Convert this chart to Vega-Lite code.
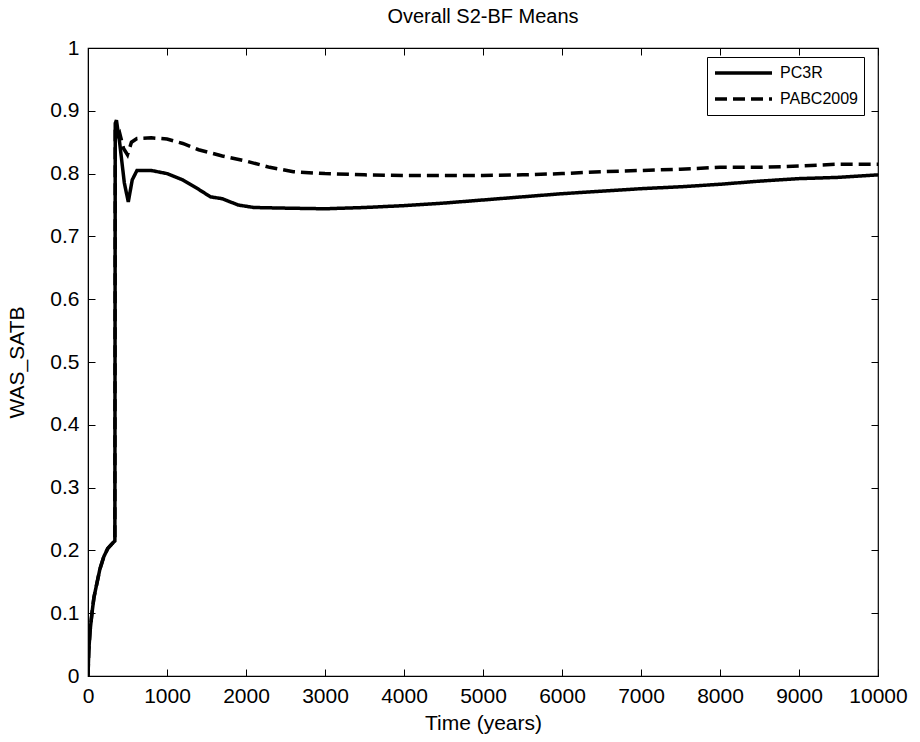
{
  "$schema": "https://vega.github.io/schema/vega-lite/v6.json",
  "width": 790,
  "height": 628,
  "autosize": "none",
  "padding": {"left": 88, "top": 48, "right": 42, "bottom": 66},
  "background": "white",
  "title": {
    "text": "Overall S2-BF Means",
    "font": "Liberation Sans",
    "fontSize": 20,
    "fontWeight": "normal",
    "color": "black",
    "anchor": "middle",
    "offset": 10
  },
  "config": {
    "view": {"stroke": "black", "strokeWidth": 1.2},
    "font": "Liberation Sans",
    "axis": {
      "grid": false,
      "domainColor": "black",
      "tickColor": "black",
      "labelColor": "black",
      "titleColor": "black",
      "labelFont": "Liberation Sans",
      "titleFont": "Liberation Sans",
      "labelFontSize": 21,
      "titleFontSize": 21,
      "titleFontWeight": "normal",
      "tickSize": -7,
      "labelPadding": 16,
      "labelOverlap": false,
      "labelFlush": false
    },
    "legend": {
      "orient": "none",
      "legendX": 619,
      "legendY": 9,
      "strokeColor": "black",
      "fillColor": "white",
      "padding": 6,
      "symbolType": "stroke",
      "symbolSize": 3249,
      "symbolStrokeWidth": 3.5,
      "symbolStrokeColor": "black",
      "labelFont": "Liberation Sans",
      "labelFontSize": 16,
      "labelColor": "black",
      "clipHeight": 20,
      "rowPadding": 6,
      "labelOffset": 6
    }
  },
  "data": {
    "values": [
      {"t": 0, "v": 0.0, "series": "PC3R"},
      {"t": 10, "v": 0.04, "series": "PC3R"},
      {"t": 25, "v": 0.07, "series": "PC3R"},
      {"t": 50, "v": 0.1, "series": "PC3R"},
      {"t": 75, "v": 0.125, "series": "PC3R"},
      {"t": 100, "v": 0.14, "series": "PC3R"},
      {"t": 150, "v": 0.17, "series": "PC3R"},
      {"t": 200, "v": 0.19, "series": "PC3R"},
      {"t": 250, "v": 0.203, "series": "PC3R"},
      {"t": 300, "v": 0.21, "series": "PC3R"},
      {"t": 340, "v": 0.215, "series": "PC3R"},
      {"t": 345, "v": 0.88, "series": "PC3R"},
      {"t": 360, "v": 0.885, "series": "PC3R"},
      {"t": 400, "v": 0.85, "series": "PC3R"},
      {"t": 460, "v": 0.785, "series": "PC3R"},
      {"t": 510, "v": 0.755, "series": "PC3R"},
      {"t": 560, "v": 0.79, "series": "PC3R"},
      {"t": 620, "v": 0.805, "series": "PC3R"},
      {"t": 800, "v": 0.805, "series": "PC3R"},
      {"t": 1000, "v": 0.8, "series": "PC3R"},
      {"t": 1200, "v": 0.79, "series": "PC3R"},
      {"t": 1400, "v": 0.775, "series": "PC3R"},
      {"t": 1550, "v": 0.763, "series": "PC3R"},
      {"t": 1700, "v": 0.76, "series": "PC3R"},
      {"t": 1900, "v": 0.75, "series": "PC3R"},
      {"t": 2100, "v": 0.746, "series": "PC3R"},
      {"t": 2500, "v": 0.745, "series": "PC3R"},
      {"t": 3000, "v": 0.744, "series": "PC3R"},
      {"t": 3500, "v": 0.746, "series": "PC3R"},
      {"t": 4000, "v": 0.749, "series": "PC3R"},
      {"t": 4500, "v": 0.753, "series": "PC3R"},
      {"t": 5000, "v": 0.758, "series": "PC3R"},
      {"t": 5500, "v": 0.763, "series": "PC3R"},
      {"t": 6000, "v": 0.768, "series": "PC3R"},
      {"t": 6500, "v": 0.772, "series": "PC3R"},
      {"t": 7000, "v": 0.776, "series": "PC3R"},
      {"t": 7500, "v": 0.779, "series": "PC3R"},
      {"t": 8000, "v": 0.783, "series": "PC3R"},
      {"t": 8500, "v": 0.788, "series": "PC3R"},
      {"t": 9000, "v": 0.792, "series": "PC3R"},
      {"t": 9500, "v": 0.794, "series": "PC3R"},
      {"t": 10000, "v": 0.798, "series": "PC3R"},
      {"t": 0, "v": 0.0, "series": "PABC2009"},
      {"t": 10, "v": 0.04, "series": "PABC2009"},
      {"t": 25, "v": 0.07, "series": "PABC2009"},
      {"t": 50, "v": 0.1, "series": "PABC2009"},
      {"t": 75, "v": 0.125, "series": "PABC2009"},
      {"t": 100, "v": 0.14, "series": "PABC2009"},
      {"t": 150, "v": 0.17, "series": "PABC2009"},
      {"t": 200, "v": 0.19, "series": "PABC2009"},
      {"t": 250, "v": 0.203, "series": "PABC2009"},
      {"t": 300, "v": 0.21, "series": "PABC2009"},
      {"t": 340, "v": 0.215, "series": "PABC2009"},
      {"t": 345, "v": 0.87, "series": "PABC2009"},
      {"t": 370, "v": 0.86, "series": "PABC2009"},
      {"t": 400, "v": 0.865, "series": "PABC2009"},
      {"t": 450, "v": 0.84, "series": "PABC2009"},
      {"t": 500, "v": 0.83, "series": "PABC2009"},
      {"t": 550, "v": 0.85, "series": "PABC2009"},
      {"t": 620, "v": 0.856, "series": "PABC2009"},
      {"t": 800, "v": 0.857, "series": "PABC2009"},
      {"t": 1000, "v": 0.855, "series": "PABC2009"},
      {"t": 1200, "v": 0.848, "series": "PABC2009"},
      {"t": 1400, "v": 0.838, "series": "PABC2009"},
      {"t": 1700, "v": 0.828, "series": "PABC2009"},
      {"t": 2000, "v": 0.82, "series": "PABC2009"},
      {"t": 2300, "v": 0.81, "series": "PABC2009"},
      {"t": 2600, "v": 0.803, "series": "PABC2009"},
      {"t": 3000, "v": 0.8, "series": "PABC2009"},
      {"t": 3500, "v": 0.798, "series": "PABC2009"},
      {"t": 4000, "v": 0.797, "series": "PABC2009"},
      {"t": 5000, "v": 0.797, "series": "PABC2009"},
      {"t": 5500, "v": 0.798, "series": "PABC2009"},
      {"t": 6000, "v": 0.8, "series": "PABC2009"},
      {"t": 6500, "v": 0.803, "series": "PABC2009"},
      {"t": 7000, "v": 0.805, "series": "PABC2009"},
      {"t": 7500, "v": 0.807, "series": "PABC2009"},
      {"t": 8000, "v": 0.81, "series": "PABC2009"},
      {"t": 8500, "v": 0.81, "series": "PABC2009"},
      {"t": 9000, "v": 0.812, "series": "PABC2009"},
      {"t": 9500, "v": 0.815, "series": "PABC2009"},
      {"t": 10000, "v": 0.815, "series": "PABC2009"}
    ]
  },
  "layer": [
    {
      "mark": {"type": "line", "color": "black", "strokeWidth": 3.5, "clip": true},
      "encoding": {
        "x": {
          "field": "t",
          "type": "quantitative",
          "scale": {"domain": [0, 10000], "nice": false, "zero": false},
          "axis": {"title": "Time (years)", "values": [0,1000,2000,3000,4000,5000,6000,7000,8000,9000,10000], "format": "d", "titlePadding": 6}
        },
        "y": {
          "field": "v",
          "type": "quantitative",
          "scale": {"domain": [0, 1], "nice": false},
          "axis": {"title": "WAS_SATB", "values": [0,0.1,0.2,0.3,0.4,0.5,0.6,0.7,0.8,0.9,1], "format": ".1~f", "titlePadding": 22}
        },
        "strokeDash": {
          "field": "series",
          "type": "nominal",
          "scale": {"domain": ["PC3R", "PABC2009"], "range": [[1, 0], [12, 6]]},
          "legend": {"title": null}
        }
      }
    },
    {
      "mark": {"type": "line", "opacity": 0},
      "encoding": {
        "x": {
          "field": "t",
          "type": "quantitative",
          "scale": {"domain": [0, 10000], "nice": false, "zero": false},
          "axis": {"orient": "top", "title": null, "labels": false, "domain": false, "values": [0,1000,2000,3000,4000,5000,6000,7000,8000,9000,10000]}
        },
        "y": {
          "field": "v",
          "type": "quantitative",
          "scale": {"domain": [0, 1], "nice": false},
          "axis": {"orient": "right", "title": null, "labels": false, "domain": false, "values": [0,0.1,0.2,0.3,0.4,0.5,0.6,0.7,0.8,0.9,1]}
        }
      }
    }
  ],
  "resolve": {"axis": {"x": "independent", "y": "independent"}}
}
